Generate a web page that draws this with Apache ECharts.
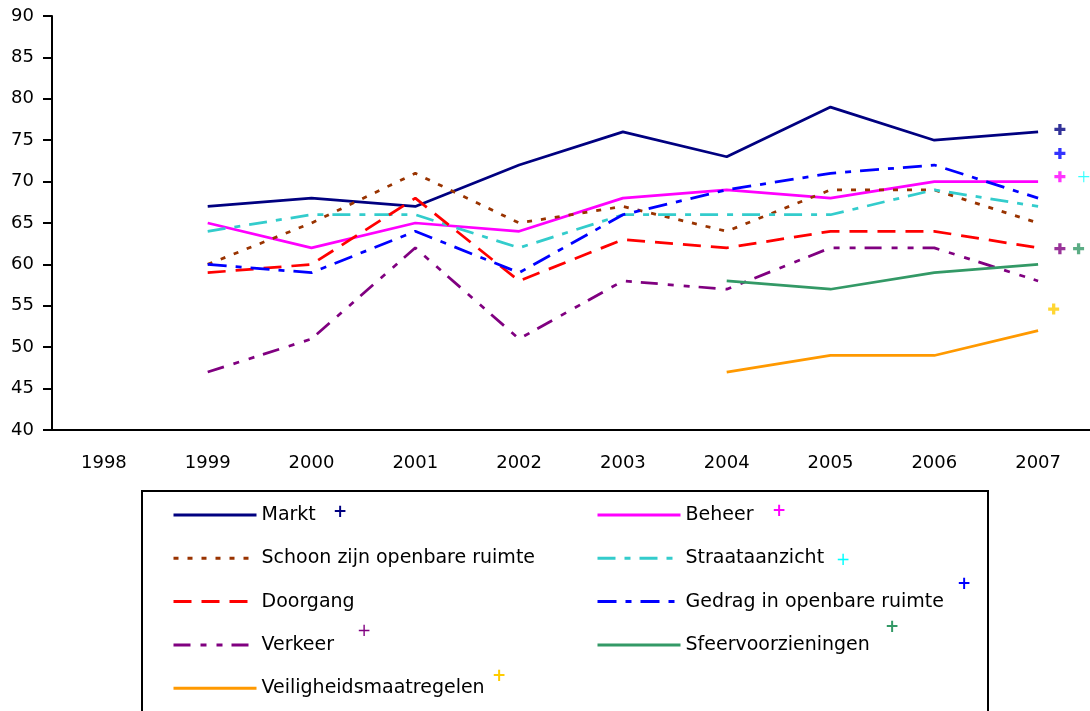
<!DOCTYPE html>
<html>
<head>
<meta charset="utf-8">
<title>Scores 1998-2007</title>
<script src="https://cdn.jsdelivr.net/npm/echarts@6/dist/echarts.min.js"></script>
<style>
    html,body{margin:0;padding:0;background:#fff;}
    #chart{width:1090px;height:711px;}
</style>
</head>
<body>
<div id="chart"></div>
<script>
// jaren op de x-as
var years = ['1998','1999','2000','2001','2002','2003','2004','2005','2006','2007'];
var yTicks = [40,45,50,55,60,65,70,75,80,85,90];

// reeksen (null = geen meting)
var markt          = [null,67,68,67,72,76,73,79,75,76];
var beheer         = [null,65,62,65,64,68,69,68,70,70];
var schoon         = [null,60,65,71,65,67,64,69,69,65];
var straataanzicht = [null,64,66,66,62,66,66,66,69,67];
var doorgang       = [null,59,60,68,58,63,62,64,64,62];
var gedrag         = [null,60,59,64,59,66,69,71,72,68];
var verkeer        = [null,47,51,62,51,58,57,62,62,58];
var sfeer          = [null,null,null,null,null,null,58,57,59,60];
var veiligheid     = [null,null,null,null,null,null,47,49,49,52];

// streefwaarden (+), [positie op de as, waarde]
var doelMarkt      = [[2007.21,76.3]];
var doelGedrag     = [[2007.21,73.4]];
var doelBeheer     = [[2007.21,70.6]];
var doelStraat     = [[2007.44,70.6]];
var doelVerkeer    = [[2007.21,61.9]];
var doelSfeer      = [[2007.39,61.9]];
var doelVeilig     = [[2007.15,54.6]];

var FONT = 'DejaVu Sans';
var PLUS = 'path://M3.5,0H6.5V3.5H10V6.5H6.5V10H3.5V6.5H0V3.5H3.5Z';
var PLUS_DUN = 'path://M4.5,0H5.5V4.5H10V5.5H5.5V10H4.5V5.5H0V4.5H4.5Z';

var init = {
    lijn : function(naam,data,kleur,dash){
        return {
            name : naam,
            type : 'line',
            data : data,
            symbol : 'none',
            connectNulls : false,
            lineStyle : { color : kleur, width : 2.75, type : dash || 'solid' },
            itemStyle : { color : kleur },
            emphasis : { disabled : true },
            z : 3
        };
    },
    plus : function(data,kleur,dun){
        return {
            type : 'scatter',
            xAxisIndex : 1,
            data : data,
            symbol : dun ? PLUS_DUN : PLUS,
            symbolSize : 11,
            itemStyle : { color : kleur },
            silent : true,
            z : 4
        };
    },
    legendPlus : function(x,y,kleur,dun){
        return {
            type : 'text',
            x : x, y : y,
            style : {
                text : '+', fill : kleur,
                align : 'center', verticalAlign : 'middle',
                font : (dun ? 'normal ' : 'bold ') + '17px "' + FONT + '"'
            }
        };
    },
    legend : function(x,namen){
        return {
            orient : 'vertical',
            left : x, top : 505,
            padding : 0,
            itemWidth : 83, itemHeight : 20, itemGap : 23.3,
            itemStyle : { opacity : 0, color : 'transparent', borderWidth : 0 },
            lineStyle : { width : 3 },
            textStyle : { color : '#000', fontFamily : FONT, fontSize : 19, lineHeight : 20 },
            selectedMode : false,
            data : namen
        };
    }
};

var myChart = echarts.init(document.getElementById('chart'));
var option = {
    animation : false,
    backgroundColor : '#fff',
    grid : { left : 52, right : 0, top : 16, bottom : 281 },
    xAxis : [
        {
            type : 'category',
            data : years,
            boundaryGap : true,
            axisLine : { lineStyle : { color : '#000', width : 2 } },
            axisTick : { show : false },
            axisLabel : { color : '#000', fontFamily : FONT, fontSize : 18, margin : 24 },
            splitLine : { show : false }
        },
        {
            type : 'value',
            min : 1997.5,
            max : 2007.5,
            show : false
        }
    ],
    yAxis : {
        type : 'value',
        min : yTicks[0],
        max : yTicks[yTicks.length-1],
        interval : 5,
        axisLine : { show : true, lineStyle : { color : '#000', width : 2 } },
        axisTick : { show : true, length : 9, lineStyle : { color : '#000', width : 2 } },
        axisLabel : { color : '#000', fontFamily : FONT, fontSize : 18, margin : 18 },
        splitLine : { show : false }
    },
    legend : [
        init.legend(172, ['Markt','Schoon zijn openbare ruimte','Doorgang','Verkeer','Veiligheidsmaatregelen']),
        init.legend(596, ['Beheer','Straataanzicht','Gedrag in openbare ruimte','Sfeervoorzieningen'])
    ],
    graphic : [
        {
            type : 'rect',
            shape : { x : 142, y : 491, width : 846, height : 240 },
            style : { fill : 'none', stroke : '#000', lineWidth : 2 }
        },
        init.legendPlus(340, 513, '#000080'),
        init.legendPlus(779, 512, '#FF00FF'),
        init.legendPlus(843, 561, '#00FFFF', true),
        init.legendPlus(964, 585, '#0000FF'),
        init.legendPlus(364, 632, '#800080', true),
        init.legendPlus(892, 628, '#339966'),
        init.legendPlus(499, 677, '#FFCC00')
    ],
    series : [
        init.lijn('Markt', markt, '#000080'),
        init.lijn('Beheer', beheer, '#FF00FF'),
        init.lijn('Schoon zijn openbare ruimte', schoon, '#993300', [5,9]),
        init.lijn('Straataanzicht', straataanzicht, '#33CCCC', [18,9,6,9]),
        init.lijn('Doorgang', doorgang, '#FF0000', [18,10]),
        init.lijn('Gedrag in openbare ruimte', gedrag, '#0000FF', [19,9,6,9]),
        init.lijn('Verkeer', verkeer, '#800080', [17,10,6,10,6,9]),
        init.lijn('Sfeervoorzieningen', sfeer, '#339966'),
        init.lijn('Veiligheidsmaatregelen', veiligheid, '#FF9900'),
        init.plus(doelMarkt, '#000080'),
        init.plus(doelGedrag, '#0000FF'),
        init.plus(doelBeheer, '#FF00FF'),
        init.plus(doelStraat, '#00FFFF', true),
        init.plus(doelVerkeer, '#800080'),
        init.plus(doelSfeer, '#339966'),
        init.plus(doelVeilig, '#FFCC00')
    ]
};
myChart.setOption(option);
</script>
</body>
</html>
